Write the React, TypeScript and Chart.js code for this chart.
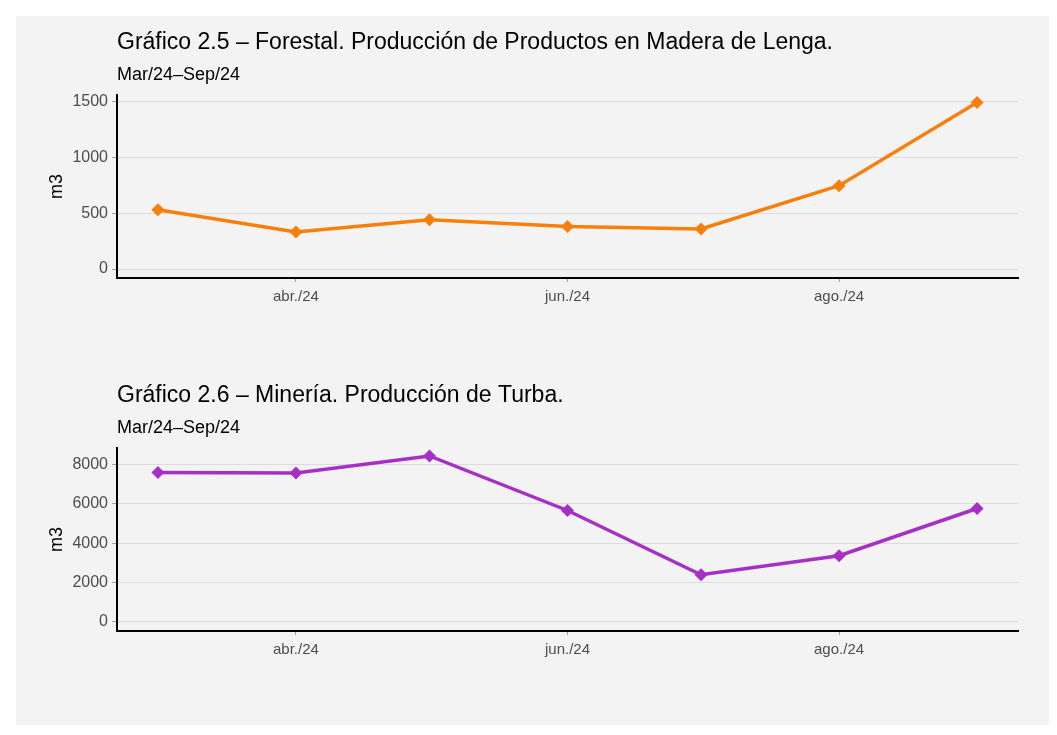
import React, { useEffect, useRef } from "react";
import { Chart, registerables } from "chart.js";

Chart.register(...registerables);

// ---- data ----
const monthDates = ["2024-03-01", "2024-04-01", "2024-05-01", "2024-06-01", "2024-07-01", "2024-08-01", "2024-09-01"];
const monthLabels = ["mar./24", "abr./24", "may./24", "jun./24", "jul./24", "ago./24", "sep./24"];
const tickLabels = ["abr./24", "jun./24", "ago./24"];

const lengaValues = [531, 331, 441, 381, 358, 746, 1490];
const turbaValues = [7576, 7556, 8422, 5655, 2394, 3362, 5757];

const lengaTicks = [0, 500, 1000, 1500];
const turbaTicks = [0, 2000, 4000, 6000, 8000];

const title1 = "Gráfico 2.5 – Forestal. Producción de Productos en Madera de Lenga.";
const title2 = "Gráfico 2.6 – Minería. Producción de Turba.";
const subtitleText = "Mar/24–Sep/24";
const yTitle = "m3";

// ---- helpers ----
const DAY = 86400000;
const start = Date.parse(monthDates[0]);
const dayOf = (d: string) => Math.round((Date.parse(d) - start) / DAY);
const xDays = monthDates.map(dayOf);
const tickDays = tickLabels.map((l) => xDays[monthLabels.indexOf(l)]);
const span = xDays[xDays.length - 1] - xDays[0];
const xMin = xDays[0] - span * 0.05;
const xMax = xDays[xDays.length - 1] + span * 0.05;

const FONT = "'Liberation Sans', Arial, Helvetica, sans-serif";
Chart.defaults.font.family = FONT;

const W = 1034;
const H = 340;

function makeConfig(title: string, values: number[], yTicks: number[], yMin: number, yMax: number, color: string): any {
  return {
    type: "line",
    data: {
      datasets: [
        {
          data: values.map((v, i) => ({ x: xDays[i], y: v })),
          borderColor: color,
          backgroundColor: color,
          borderWidth: 3.5,
          pointStyle: "rectRot",
          pointRadius: 6.5,
          pointBorderWidth: 0,
          pointBackgroundColor: color,
          tension: 0,
        },
      ],
    },
    options: {
      responsive: false,
      animation: false,
      devicePixelRatio: 1,
      layout: { padding: { top: 0, left: 0, right: 32, bottom: 48 } },
      plugins: {
        legend: { display: false },
        tooltip: { enabled: false },
        title: {
          display: true,
          text: title,
          align: "start",
          fullSize: false,
          color: "#000",
          font: { size: 23, weight: "normal", family: FONT },
          padding: { top: 13, bottom: 8 },
        },
        subtitle: {
          display: true,
          text: subtitleText,
          align: "start",
          fullSize: false,
          color: "#000",
          font: { size: 18, weight: "normal", family: FONT },
          padding: { top: 0, bottom: 9 },
        },
      },
      scales: {
        x: {
          type: "linear",
          min: xMin,
          max: xMax,
          afterBuildTicks: (scale: any) => {
            scale.ticks = tickDays.map((v) => ({ value: v }));
          },
          afterFit: (scale: any) => {
            scale.height = 30;
          },
          ticks: {
            autoSkip: false,
            maxRotation: 0,
            color: "#4d4d4d",
            font: { size: 15 },
            padding: 6,
            callback: (v: number) => {
              const i = xDays.indexOf(v);
              return i >= 0 ? monthLabels[i] : "";
            },
          },
          grid: { drawOnChartArea: false, drawTicks: true, tickLength: 4, tickColor: "#a0a0a0", lineWidth: 1 },
          border: { display: true, color: "#000", width: 2 },
        },
        y: {
          type: "linear",
          min: yMin,
          max: yMax,
          afterBuildTicks: (scale: any) => {
            scale.ticks = yTicks.map((v) => ({ value: v }));
          },
          afterFit: (scale: any) => {
            scale.width = 101;
          },
          ticks: {
            color: "#4d4d4d",
            font: { size: 16 },
            padding: 4,
            callback: (v: number) => String(v),
          },
          grid: { color: "#dcdcdc", lineWidth: 1, drawTicks: true, tickLength: 5, tickColor: "#a0a0a0" },
          border: { display: true, color: "#000", width: 2 },
          title: {
            display: true,
            text: yTitle,
            color: "#000",
            font: { size: 18 },
            padding: { top: 30, bottom: 0 },
          },
        },
      },
    },
  };
}

function LineChart(props: { title: string; values: number[]; yTicks: number[]; yMin: number; yMax: number; color: string; top: number }) {
  const ref = useRef<HTMLCanvasElement>(null);
  useEffect(() => {
    if (!ref.current) return;
    const chart = new Chart(ref.current, makeConfig(props.title, props.values, props.yTicks, props.yMin, props.yMax, props.color));
    return () => chart.destroy();
  }, []);
  return (
    <div style={{ position: "absolute", left: 0, top: props.top, width: W, height: H }}>
      <canvas ref={ref} width={W} height={H} style={{ display: "block", width: W, height: H }} />
    </div>
  );
}

export default function App() {
  return (
    <div style={{ margin: 8, width: W, height: 709, background: "#f2f3f2", position: "relative" }}>
      <LineChart title={title1} values={lengaValues} yTicks={lengaTicks} yMin={-80} yMax={1555} color="#f97f0b" top={0} />
      <LineChart title={title2} values={turbaValues} yTicks={turbaTicks} yMin={-460} yMax={8815} color="#a630c5" top={353} />
    </div>
  );
}
